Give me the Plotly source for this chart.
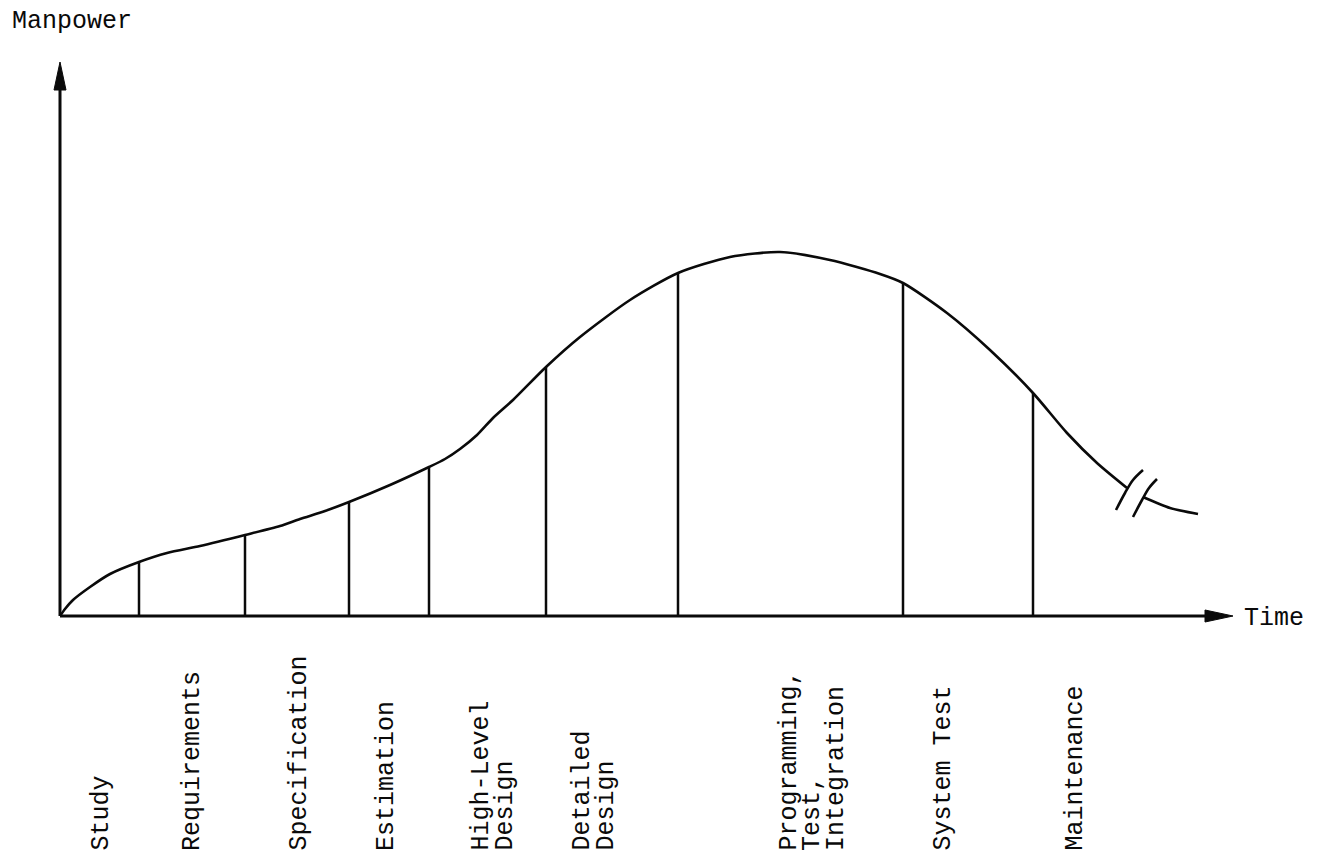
import plotly.graph_objects as go

# ---------------- data (time units, manpower units) ----------------
curve_t = [0.0, 0.5, 1.3, 3.0, 5.0, 7.9, 10.7, 14.0, 18.5, 22.0, 24.0, 26.5, 28.9, 33.0,
           36.9, 38.5, 40.0, 41.7, 43.3, 45.3, 48.6, 52.0, 57.0, 61.8, 67.0, 72.0, 77.0, 82.0,
           84.3, 88.7, 93.0, 97.3, 100.7, 103.7, 106.7]
curve_m = [0.0, 0.7, 1.6, 2.9, 4.2, 5.4, 6.3, 7.0, 8.1, 9.0, 9.7, 10.5, 11.4, 13.1,
           14.9, 15.7, 16.7, 18.1, 19.8, 21.6, 24.9, 27.9, 31.6, 34.3, 35.9, 36.4, 35.6, 34.2,
           33.3, 30.3, 26.6, 22.3, 18.3, 15.3, 12.8]
tail_t = [108.3, 111.0, 113.8]
tail_m = [11.9, 10.8, 10.2]

phase_end_t = [7.9, 18.5, 28.9, 36.9, 48.6, 61.8, 84.3, 97.3]
phase_end_m = [5.4, 8.1, 11.4, 14.9, 24.9, 34.3, 33.3, 22.3]

phase_names = ["Study", "Requirements", "Specification", "Estimation",
               "High-Level\nDesign", "Detailed\nDesign",
               "Programming,\nTest,\nIntegration", "System Test", "Maintenance"]
phase_label_t = [4.1, 13.2, 23.9, 32.6, 43.25, 53.35, 75.25, 88.3, 101.5]

break1_t = [105.6, 106.5, 107.3, 108.3]
break1_m = [10.6, 12.3, 13.6, 14.6]
break2_t = [107.3, 108.2, 108.9, 109.7]
break2_m = [9.9, 11.6, 12.8, 13.7]

x_axis_end = 117.3
y_axis_end = 55.4
x_title = "Time"
y_title = "Manpower"

# ---------------- style ----------------
INK = "#0a0a0a"
FONT = "Liberation Mono, Courier New, monospace"
FS = 25
LINE_GAP = 2.4
LABEL_BASE_M = -23.7
HEAD_LEN = 2.8
HEAD_HALF = 0.6

fig = go.Figure()

# main curve
fig.add_trace(go.Scatter(x=curve_t, y=curve_m, mode="lines",
                         line=dict(color=INK, width=2.6, shape="spline", smoothing=0.7),
                         hoverinfo="skip"))
fig.add_trace(go.Scatter(x=tail_t, y=tail_m, mode="lines",
                         line=dict(color=INK, width=2.6, shape="spline", smoothing=0.7),
                         hoverinfo="skip"))
# break marks
for bt, bm in ((break1_t, break1_m), (break2_t, break2_m)):
    fig.add_trace(go.Scatter(x=bt, y=bm, mode="lines",
                             line=dict(color=INK, width=2.6, shape="spline"),
                             hoverinfo="skip"))

# phase separators
vx, vy = [], []
for t, m in zip(phase_end_t, phase_end_m):
    vx += [t, t, None]
    vy += [0, m, None]
fig.add_trace(go.Scatter(x=vx, y=vy, mode="lines",
                         line=dict(color=INK, width=2.5), hoverinfo="skip"))

# axes
fig.add_trace(go.Scatter(x=[0, x_axis_end - HEAD_LEN + 0.3], y=[0, 0], mode="lines",
                         line=dict(color=INK, width=3), hoverinfo="skip"))
fig.add_trace(go.Scatter(x=[0, 0], y=[0, y_axis_end - HEAD_LEN + 0.3], mode="lines",
                         line=dict(color=INK, width=3), hoverinfo="skip"))
# arrowheads
fig.add_trace(go.Scatter(
    x=[x_axis_end, x_axis_end - HEAD_LEN, x_axis_end - HEAD_LEN, x_axis_end],
    y=[0, HEAD_HALF, -HEAD_HALF, 0], mode="lines", fill="toself",
    fillcolor=INK, line=dict(color=INK, width=1), hoverinfo="skip"))
fig.add_trace(go.Scatter(
    x=[0, HEAD_HALF, -HEAD_HALF, 0],
    y=[y_axis_end, y_axis_end - HEAD_LEN, y_axis_end - HEAD_LEN, y_axis_end],
    mode="lines", fill="toself",
    fillcolor=INK, line=dict(color=INK, width=1), hoverinfo="skip"))

annotations = []
for name, tc in zip(phase_names, phase_label_t):
    lines = name.split("\n")
    n = len(lines)
    for i, ln in enumerate(lines):
        annotations.append(dict(
            x=tc + (i - (n - 1) / 2) * LINE_GAP, y=LABEL_BASE_M,
            xref="x", yref="y", text=ln, showarrow=False, textangle=-90,
            xanchor="center", yanchor="bottom",
            font=dict(family=FONT, size=FS, color=INK)))

annotations.append(dict(x=-5.0, y=59.5, xref="x", yref="y", text=y_title,
                        showarrow=False, xanchor="left", yanchor="middle",
                        font=dict(family=FONT, size=FS, color=INK)))
annotations.append(dict(x=118.2, y=-0.2, xref="x", yref="y", text=x_title,
                        showarrow=False, xanchor="left", yanchor="middle",
                        font=dict(family=FONT, size=FS, color=INK)))

fig.update_layout(
    width=1321, height=867,
    margin=dict(l=0, r=0, t=0, b=0),
    paper_bgcolor="white", plot_bgcolor="white",
    showlegend=False,
    xaxis=dict(range=[-6.0, 126.1], visible=False, fixedrange=True),
    yaxis=dict(range=[-25.1, 61.6], visible=False, fixedrange=True),
    annotations=annotations,
)

fig.write_html("out.html", config={"displayModeBar": False},
               post_script="document.body.style.margin='0';document.body.style.overflow='hidden';")
